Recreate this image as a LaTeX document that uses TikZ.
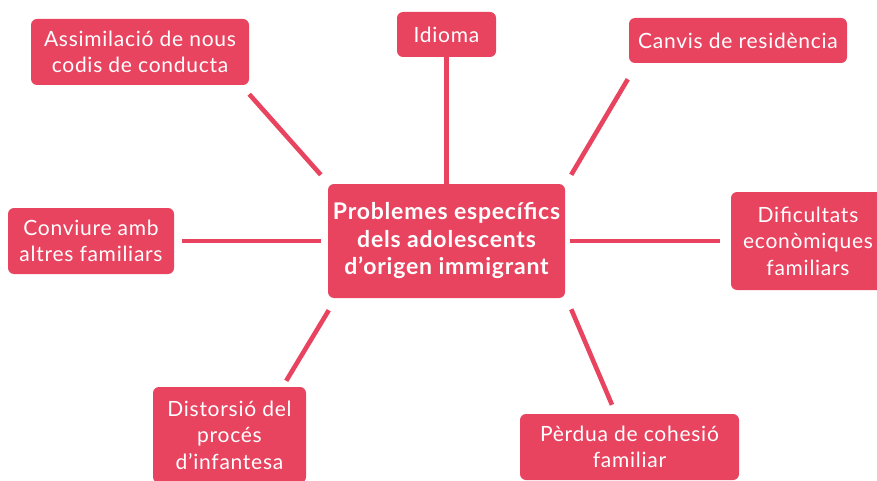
\documentclass[tikz,border=0pt]{standalone}
\usepackage{fontspec}
\setmainfont{Lato}[LetterSpace=3.5]
\definecolor{rose}{RGB}{232,68,96}
\begin{document}
\begin{tikzpicture}[x=1pt,y=-1pt,
  box/.style={fill=rose,draw=none,rounded corners=6pt,text=white,align=center,
    inner sep=0pt,font=\fontsize{21}{26.5}\selectfont},
  hub/.style={box,font=\bfseries\fontsize{23}{27.5}\selectfont},
  link/.style={draw=rose,line width=4.6pt}]
\useasboundingbox (0,0) rectangle (877,481);
\clip (0,0) rectangle (877,481);
\node[hub,minimum width=237pt,minimum height=114pt] (c) at (446.5,241) {Problemes específics\\dels adolescents\\d’origen immigrant};
\node[box,minimum width=99pt,minimum height=45pt] (id) at (446.5,34.5) {Idioma};
\node[box,minimum width=218pt,minimum height=66pt] (as) at (140,52) {Assimilació de nous\\codis de conducta};
\node[box,minimum width=218pt,minimum height=45pt] (cr) at (738,40.5) {Canvis de residència};
\node[box,minimum width=166pt,minimum height=66pt] (cf) at (91,241) {Conviure amb\\altres familiars};
\node[box,minimum width=154pt,minimum height=98pt] (de) at (808,241) {Dificultats\\econòmiques\\familiars};
\node[box,minimum width=153pt,minimum height=96pt] (di) at (229.5,435) {Distorsió del\\procés\\d’infantesa};
\node[box,minimum width=219pt,minimum height=66pt] (pc) at (629.5,447) {Pèrdua de cohesió\\familiar};
\draw[link] ([yshift=9]id.south) -- ([yshift=-9]c.north);
\draw[link] ([shift={(0,9)}]as.south east) -- ([shift={(-7,-9)}]c.north west);
\draw[link] ([shift={(-1,16)}]cr.south west) -- ([shift={(6,-9)}]c.north east);
\draw[link] ([xshift=8]cf.east) -- ([xshift=-7]c.west);
\draw[link] ([xshift=5]c.east) -- ([xshift=-11]de.west);
\draw[link] ([shift={(1,12)}]c.south west) -- ([shift={(-20,-6)}]di.north east);
\draw[link] ([shift={(6,11)}]c.south east) -- ([shift={(-17.5,-9)}]pc.north);
\end{tikzpicture}
\end{document}
